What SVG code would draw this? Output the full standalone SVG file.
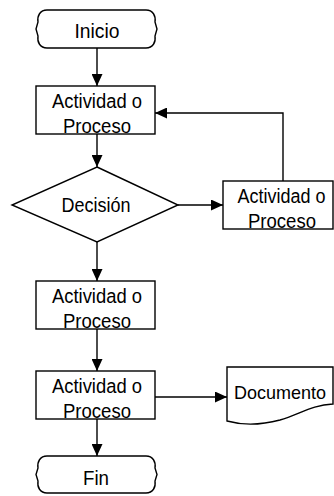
<svg xmlns="http://www.w3.org/2000/svg" width="334" height="496" viewBox="0 0 334 496">
<defs>
<style>
.s{fill:#fff;stroke:#000;stroke-width:1.4}
.c{fill:none;stroke:#000;stroke-width:1.4}
text{font-family:"Liberation Sans",Arial,sans-serif;font-size:20px;fill:#000;text-anchor:middle}
</style>
<marker id="a" viewBox="0 0 12 11" refX="12" refY="5.5" markerWidth="12" markerHeight="11" markerUnits="userSpaceOnUse" orient="auto">
<path d="M0,0 L12,5.5 L0,11 Z" fill="#000"/>
</marker>
</defs>
<g id="connectors">
<path class="c" d="M97,48 V86" marker-end="url(#a)"/>
<path class="c" d="M97,134 V167" marker-end="url(#a)"/>
<path class="c" d="M178,205 H223" marker-end="url(#a)"/>
<path class="c" d="M283,181 V113 H155" marker-end="url(#a)"/>
<path class="c" d="M97,242 V281" marker-end="url(#a)"/>
<path class="c" d="M97,329 V371" marker-end="url(#a)"/>
<path class="c" d="M155,397 H227" marker-end="url(#a)"/>
<path class="c" d="M97,419 V456" marker-end="url(#a)"/>
</g>
<g id="inicio">
<path class="s" d="M47,10 C40,10 37,16 38,22 L36,29 L38,36 C37,42 40,48 47,48 H146 C153,48 156,42 155,36 L157,29 L155,22 C156,16 153,10 146,10 Z"/>
<text x="97" y="38" textLength="45" lengthAdjust="spacingAndGlyphs">Inicio</text>
</g>
<g id="proceso1">
<rect class="s" x="36" y="86" width="119" height="48"/>
<text x="97" y="108" textLength="90" lengthAdjust="spacingAndGlyphs">Actividad o</text>
<text x="97" y="133" textLength="68" lengthAdjust="spacingAndGlyphs">Proceso</text>
</g>
<g id="decision">
<path class="s" d="M97,167 L178,205 L97,242 L12,205 Z"/>
<text x="96" y="212" textLength="69" lengthAdjust="spacingAndGlyphs">Decisión</text>
</g>
<g id="proceso2">
<rect class="s" x="223" y="181" width="110" height="48"/>
<text x="281.5" y="203" textLength="88" lengthAdjust="spacingAndGlyphs">Actividad o</text>
<text x="282" y="228" textLength="68" lengthAdjust="spacingAndGlyphs">Proceso</text>
</g>
<g id="proceso3">
<rect class="s" x="36" y="281" width="119" height="48"/>
<text x="97" y="303" textLength="90" lengthAdjust="spacingAndGlyphs">Actividad o</text>
<text x="97" y="328" textLength="68" lengthAdjust="spacingAndGlyphs">Proceso</text>
</g>
<g id="proceso4">
<rect class="s" x="36" y="371" width="119" height="48"/>
<text x="97" y="393" textLength="90" lengthAdjust="spacingAndGlyphs">Actividad o</text>
<text x="97" y="418" textLength="68" lengthAdjust="spacingAndGlyphs">Proceso</text>
</g>
<g id="documento">
<path class="s" d="M227,367 H333 V404 C312,405 300,414 280,420 C265,424 245,426 227,421 Z"/>
<text x="280" y="399" style="font-size:18.5px" textLength="92" lengthAdjust="spacingAndGlyphs">Documento</text>
</g>
<g id="fin">
<path class="s" d="M47,456 C40,456 37,462 38,468 L36,474.5 L38,481 C37,487 40,493 47,493 H146 C153,493 156,487 155,481 L157,474.5 L155,468 C156,462 153,456 146,456 Z"/>
<text x="96" y="485" textLength="26" lengthAdjust="spacingAndGlyphs">Fin</text>
</g>
</svg>
